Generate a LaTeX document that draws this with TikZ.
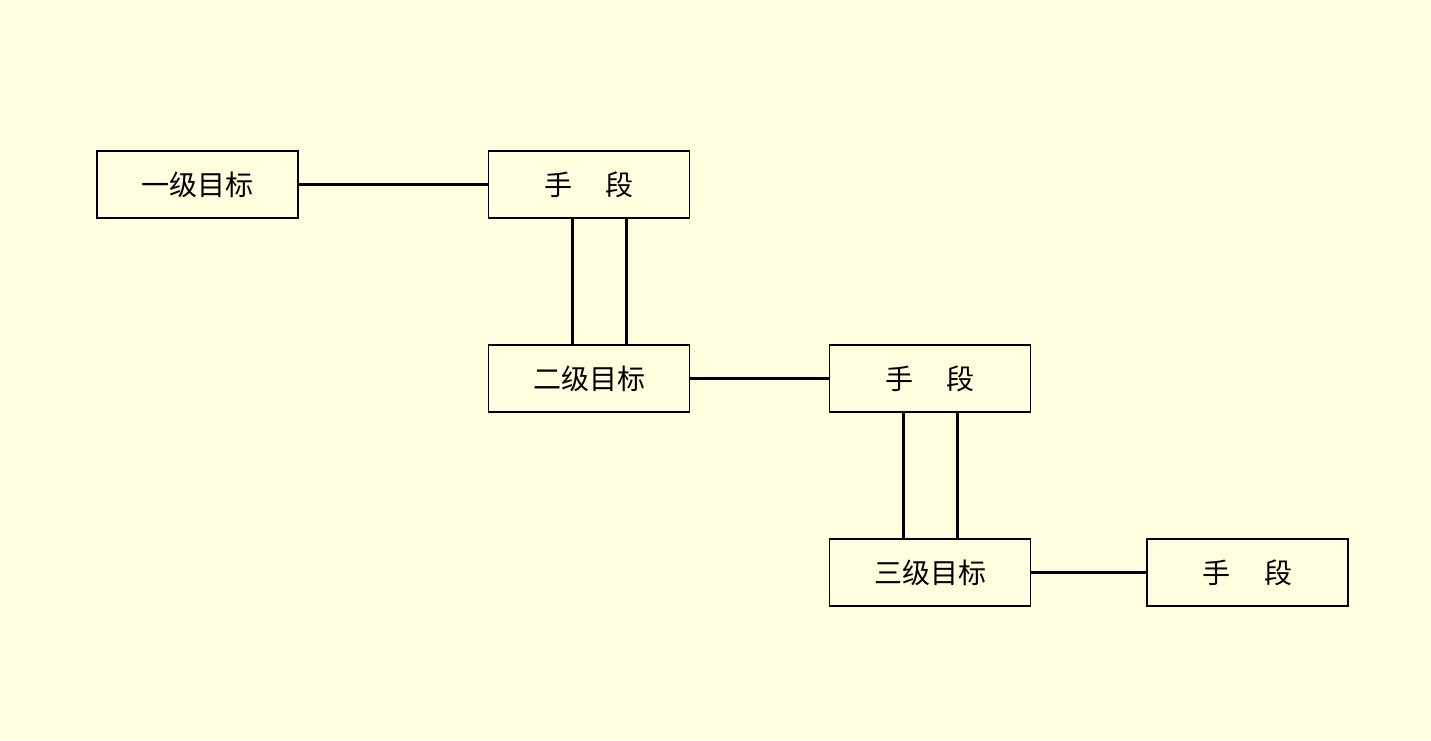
\documentclass[tikz,border=0pt]{standalone}
\usepackage{fontspec}
\setmainfont{Noto Sans CJK SC}
\usetikzlibrary{positioning}
\definecolor{bgyellow}{RGB}{255,255,224}
\tikzset{
	box/.style={draw,line width=1.6pt,minimum width=201pt,minimum height=67pt,
		inner sep=0pt,font=\fontsize{28}{30}\selectfont},
	link/.style={line width=3pt}
}
\begin{document}
\begin{tikzpicture}[x=1pt,y=-1pt]
	\fill[bgyellow] (0,0) rectangle (1431,740);
	\useasboundingbox (0,0) rectangle (1431,740);
	\node[box] (g1) at (197.5,184.5) {一级目标};
	\node[box] (s1) at (589,184.5) {手\hspace{1.2em}段};
	\node[box] (g2) at (589,378.5) {二级目标};
	\node[box] (s2) at (930,378.5) {手\hspace{1.2em}段};
	\node[box] (g3) at (930,572.5) {三级目标};
	\node[box] (s3) at (1247.5,572.5) {手\hspace{1.2em}段};
	%horizontal links
	\draw[link] (g1) -- (s1);
	\draw[link] (g2) -- (s2);
	\draw[link] (g3) -- (s3);
	%double vertical links
	\draw[link] ([xshift=-17pt]s1.south) -- ([xshift=-17pt]g2.north);
	\draw[link] ([xshift=37pt]s1.south) -- ([xshift=37pt]g2.north);
	\draw[link] ([xshift=-27pt]s2.south) -- ([xshift=-27pt]g3.north);
	\draw[link] ([xshift=27pt]s2.south) -- ([xshift=27pt]g3.north);
\end{tikzpicture}
\end{document}
